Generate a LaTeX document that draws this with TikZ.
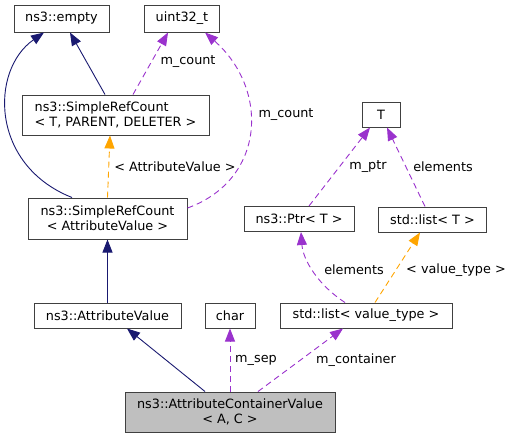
\documentclass[tikz,border=0pt]{standalone}
\usepackage{fontspec}
\setmainfont{DejaVu Sans}
\usetikzlibrary{arrows.meta}
\definecolor{edgeblue}{HTML}{191970}
\definecolor{edgepurple}{HTML}{9A32CD}
\definecolor{edgeorange}{HTML}{FFA500}
\definecolor{boxgray}{HTML}{404040}
\definecolor{fillgray}{HTML}{BFBFBF}
\begin{document}
\begin{tikzpicture}[x=1pt,y=-1pt,
  cls/.style={draw=boxgray, line width=1pt, inner sep=0pt, font=\fontsize{12.8}{15}\selectfont, align=center},
  lbl/.style={inner sep=0pt, font=\fontsize{12.8}{15}\selectfont},
  tip/.style={-{Triangle[length=13pt,width=10pt]}},
  inh/.style={draw=edgeblue, line width=0.9pt, tip},
  use/.style={draw=edgepurple, line width=0.9pt, dash pattern=on 6pt off 4pt, tip},
  tmpl/.style={draw=edgeorange, line width=0.9pt, dash pattern=on 6pt off 4pt, tip}]
\useasboundingbox (0,0) rectangle (513,439);
% nodes
\node[cls, minimum width=95pt, minimum height=27pt] (empty) at (61.5,18.5) {ns3::empty};
\node[cls, minimum width=75pt, minimum height=27pt] (uint) at (182,18.5) {uint32\_t};
\node[cls, minimum width=187pt, minimum height=40pt, align=left] (srctpd) at (115.5,115) {ns3::SimpleRefCount\\< T, PARENT, DELETER >};
\node[cls, minimum width=159pt, minimum height=41pt] (srcav) at (107.5,218.5) {ns3::SimpleRefCount\\< AttributeValue >};
\node[cls, minimum width=38pt, minimum height=25pt] (T) at (381,114.5) {T};
\node[cls, minimum width=110pt, minimum height=25pt] (ptr) at (299,219) {ns3::Ptr< T >};
\node[cls, minimum width=108pt, minimum height=25pt] (listT) at (432.5,219.5) {std::list< T >};
\node[cls, minimum width=147pt, minimum height=25pt] (av) at (107.5,315.5) {ns3::AttributeValue};
\node[cls, minimum width=50pt, minimum height=25pt] (char) at (230,315.5) {char};
\node[cls, minimum width=172pt, minimum height=25pt] (listvt) at (366,315.5) {std::list< value\_type >};
\node[cls, fill=fillgray, minimum width=210pt, minimum height=40pt] (acv) at (230,412) {ns3::AttributeContainerValue\\< A, C >};
% edges
\draw[inh] ([xshift=-35.5pt]srcav.north) .. controls (-10,165) and (-10,70) .. ([xshift=-17.5pt]empty.south);
\draw[inh] ([xshift=-10.5pt]srctpd.north) -- ([xshift=8.5pt]empty.south);
\draw[use] ([xshift=17.5pt]srctpd.north) -- ([xshift=-14pt]uint.south);
\draw[use] ([yshift=10.5pt]srcav.east) .. controls (265,180) and (270,90) .. ([xshift=23pt]uint.south);
\draw[tmpl] (srcav.north) -- ([xshift=-5.5pt]srctpd.south);
\draw[inh] (av.north) -- (srcav.south);
\draw[use] ([xshift=10pt]ptr.north) -- ([xshift=-11pt]T.south);
\draw[use] ([xshift=-7.5pt]listT.north) -- ([xshift=6pt]T.south);
\draw[use] ([xshift=-21pt]listvt.north) .. controls (318,285) and (303,260) .. ([xshift=2pt]ptr.south);
\draw[tmpl] ([xshift=9pt]listvt.north) -- ([xshift=-12.5pt]listT.south);
\draw[inh] ([xshift=-25pt]acv.north) -- ([xshift=19.5pt]av.south);
\draw[use] (acv.north) -- (char.south);
\draw[use] ([xshift=28pt]acv.north) -- ([xshift=-23pt]listvt.south);
% labels
\node[lbl] (l1) at (188,62) {m\_count};
\node[lbl] (l2) at (286,115) {m\_count};
\node[lbl] (l3) at (175,167) {< AttributeValue >};
\node[lbl] (l4) at (368,167) {m\_ptr};
\node[lbl] (l5) at (443,167) {elements};
\node[lbl] (l6) at (354,270) {elements};
\node[lbl] (l7) at (456,270) {< value\_type >};
\node[lbl] (l8) at (256,360) {m\_sep};
\node[lbl] (l9) at (356,360) {m\_container};
\end{tikzpicture}
\end{document}
